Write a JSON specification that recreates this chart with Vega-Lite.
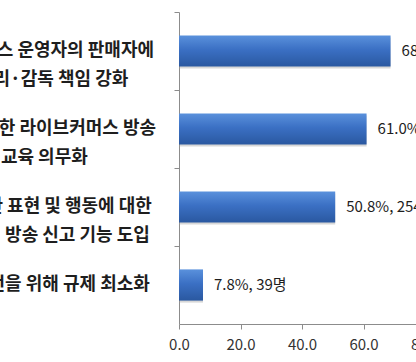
{
  "$schema": "https://vega.github.io/schema/vega-lite/v6.json",
  "autosize": {"type": "none"},
  "width": 246,
  "height": 312,
  "padding": {"left": 179, "top": 12, "right": -9, "bottom": 38},
  "background": "white",
  "data": {"values": [
    {"item": "라이브커머스 운영자의 판매자에\n대한 관리·감독 책임 강화", "pct": 68.8, "label": "68.8%, 344명", "order": 1},
    {"item": "판매자에 대한 라이브커머스 방송\n및 교육 의무화", "pct": 61.0, "label": "61.0%, 305명", "order": 2},
    {"item": "적절치 못한 표현 및 행동에 대한\n시청자들의 방송 신고 기능 도입", "pct": 50.8, "label": "50.8%, 254명", "order": 3},
    {"item": "산업의 발전을 위해 규제 최소화", "pct": 7.8, "label": "7.8%, 39명", "order": 4}
  ]},
  "config": {"view": {"stroke": null}, "font": "Noto Sans CJK KR"},
  "encoding": {
    "y": {"field": "item", "type": "nominal", "sort": {"field": "order"},
      "scale": {"paddingInner": 0, "paddingOuter": 0},
      "axis": {"title": null, "labels": false, "bandPosition": 0, "domainColor": "#8c8c8c", "tickColor": "#8c8c8c", "tickSize": 5, "domainWidth": 1}
    }
  },
  "layer": [
    {
      "mark": {"type": "bar", "height": {"band": 0.4}, "color": "#9a9a9a", "opacity": 0.4, "yOffset": 2, "x2Offset": 2},
      "encoding": {
        "x": {"field": "pct", "type": "quantitative",
          "scale": {"domain": [0, 80], "nice": false},
          "axis": {"title": null, "values": [0, 20, 40, 60, 80], "format": ".1f", "grid": false, "labelFlush": false,
            "domainColor": "#8c8c8c", "tickColor": "#8c8c8c", "tickSize": 5, "labelFontSize": 15,
            "labelColor": "#333333", "labelPadding": 8, "labelFont": "Noto Sans CJK KR"}
        }
      }
    },
    {
      "mark": {"type": "bar", "height": {"band": 0.4},
        "color": {"gradient": "linear", "x1": 0, "y1": 0, "x2": 0, "y2": 1,
          "stops": [{"offset": 0, "color": "#5a91dc"}, {"offset": 0.45, "color": "#3b70c4"}, {"offset": 1, "color": "#2a58a0"}]}},
      "encoding": {"x": {"field": "pct", "type": "quantitative"}}
    },
    {
      "mark": {"type": "text", "align": "left", "baseline": "middle", "dx": 11, "fontSize": 15, "color": "#1e1e1e"},
      "encoding": {"x": {"field": "pct", "type": "quantitative"}, "text": {"field": "label"}}
    },
    {
      "mark": {"type": "text", "align": "center", "baseline": "middle", "dx": -145, "fontSize": 18, "fontWeight": "bold", "lineBreak": "\n", "lineHeight": 29, "color": "#1e1e1e"},
      "encoding": {"x": {"datum": 0, "type": "quantitative"}, "text": {"field": "item"}}
    }
  ]
}
